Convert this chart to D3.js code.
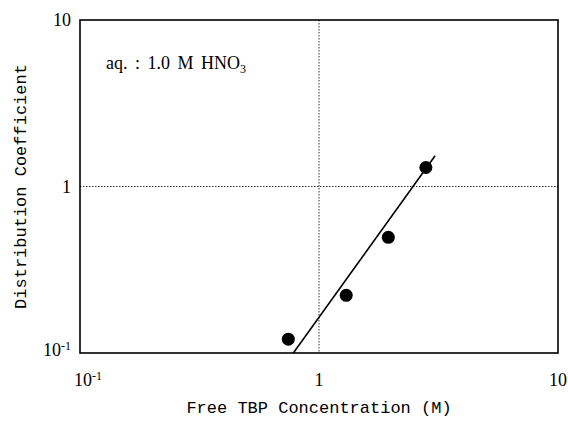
<!DOCTYPE html>
<html>
<head>
<meta charset="utf-8">
<script src="https://d3js.org/d3.v7.min.js"></script>
<style>
  body { margin: 0; background: #fff; }
</style>
</head>
<body>
<div id="chart"></div>
<script>
  // measured points (free TBP conc. in M, distribution coefficient)
  const tbpConc = [0.744, 1.30, 1.95, 2.80];
  const distCoef = [0.121, 0.222, 0.495, 1.30];
  // fitted slope-2 line, end points
  const fitX = [0.781, 3.06];
  const fitY = [0.100, 1.53];
  const tickVals = [0.1, 1, 10];

  const width = 568, height = 426;
  const margin = {top: 20, right: 10, bottom: 73, left: 80};

  const svg = d3.select("#chart").append("svg")
    .attr("width", width)
    .attr("height", height);

  const x = d3.scaleLog().domain([0.1, 10]).range([margin.left, width - margin.right]);
  const y = d3.scaleLog().domain([0.1, 10]).range([height - margin.bottom, margin.top]);

  const serif = "'Liberation Serif', 'Times New Roman', serif";
  const mono = "'Liberation Mono', 'Courier New', monospace";

  // grid lines at 1
  svg.append("line")
    .attr("x1", x(1)).attr("x2", x(1))
    .attr("y1", y(10)).attr("y2", y(0.1))
    .attr("stroke", "#333").attr("stroke-width", 1)
    .attr("stroke-dasharray", "1.5,1.5");
  svg.append("line")
    .attr("x1", x(0.1)).attr("x2", x(10))
    .attr("y1", y(1)).attr("y2", y(1))
    .attr("stroke", "#333").attr("stroke-width", 1)
    .attr("stroke-dasharray", "1.5,1.5");

  // frame
  svg.append("rect")
    .attr("x", x(0.1)).attr("y", y(10))
    .attr("width", x(10) - x(0.1))
    .attr("height", y(0.1) - y(10))
    .attr("fill", "none")
    .attr("stroke", "#000")
    .attr("stroke-width", 1.6);

  // tick labels
  function tickLabel(g, v) {
    if (v === 0.1) {
      g.append("tspan").text("10");
      g.append("tspan").attr("dy", -6).attr("font-size", 12).text("-1");
    } else {
      g.text(v);
    }
  }

  tickVals.forEach(v => {
    const t = svg.append("text")
      .attr("x", x(v) + (v === 0.1 ? 8 : 0))
      .attr("y", height - margin.bottom + 33)
      .attr("text-anchor", "middle")
      .attr("font-family", serif)
      .attr("font-size", 18)
      .attr("fill", "#000");
    tickLabel(t, v);
  });

  tickVals.forEach(v => {
    const t = svg.append("text")
      .attr("x", margin.left - 9)
      .attr("y", y(v) + (v === 0.1 ? 3 : 6))
      .attr("text-anchor", "end")
      .attr("font-family", serif)
      .attr("font-size", 18)
      .attr("fill", "#000");
    tickLabel(t, v);
  });

  // axis titles
  svg.append("text")
    .attr("x", x(1))
    .attr("y", height - 13)
    .attr("text-anchor", "middle")
    .attr("font-family", mono)
    .attr("font-size", 17)
    .attr("fill", "#000")
    .text("Free TBP Concentration (M)");

  svg.append("text")
    .attr("transform", `translate(26,${y(1)}) rotate(-90)`)
    .attr("text-anchor", "middle")
    .attr("font-family", mono)
    .attr("font-size", 17)
    .attr("fill", "#000")
    .text("Distribution Coefficient");

  // annotation
  const ann = svg.append("text")
    .attr("x", 106)
    .attr("y", 69)
    .attr("font-family", serif)
    .attr("font-size", 18)
    .attr("word-spacing", 3)
    .attr("fill", "#000");
  ann.append("tspan").text("aq. : 1.0 M HNO");
  ann.append("tspan").attr("dy", 4).attr("font-size", 12).text("3");

  // fitted line
  const fit = fitX.map((d, i) => [d, fitY[i]]);
  svg.append("path")
    .datum(fit)
    .attr("fill", "none")
    .attr("stroke", "#000")
    .attr("stroke-width", 1.6)
    .attr("d", d3.line().x(d => x(d[0])).y(d => y(d[1])));

  // data points
  svg.append("g")
    .selectAll("circle")
    .data(tbpConc.map((d, i) => [d, distCoef[i]]))
    .enter().append("circle")
    .attr("cx", d => x(d[0]))
    .attr("cy", d => y(d[1]))
    .attr("r", 6.5)
    .attr("fill", "#000");
</script>
</body>
</html>
